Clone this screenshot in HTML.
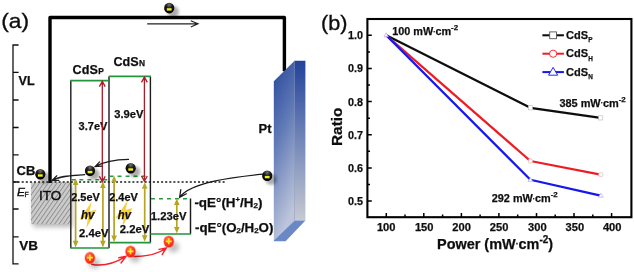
<!DOCTYPE html>
<html><head><meta charset="utf-8">
<style>
html,body{margin:0;padding:0;background:#fff;}
svg{display:block;}
text{font-family:"Liberation Sans",sans-serif;fill:#111;}
.b{font-weight:bold;stroke:#111;stroke-width:0.25px;}
</style></head>
<body>
<svg width="634" height="272" viewBox="0 0 634 272">
<defs>
  <filter id="blur0" x="-50%" y="-50%" width="200%" height="200%"><feGaussianBlur stdDeviation="0.7"/></filter>
  <filter id="blur1" x="-50%" y="-50%" width="200%" height="200%"><feGaussianBlur stdDeviation="1.8"/></filter>
  <filter id="blur2" x="-50%" y="-50%" width="200%" height="200%"><feGaussianBlur stdDeviation="2.5"/></filter>
  <filter id="soft" x="-5%" y="-5%" width="110%" height="110%"><feGaussianBlur stdDeviation="0.35"/></filter>
  <radialGradient id="eg" cx="50%" cy="20%" r="70%">
    <stop offset="0" stop-color="#777"/><stop offset="0.45" stop-color="#1a1a1a"/><stop offset="1" stop-color="#000"/>
  </radialGradient>
  <radialGradient id="hg" cx="40%" cy="30%" r="75%">
    <stop offset="0" stop-color="#ff7a4a"/><stop offset="0.55" stop-color="#ff3a26"/><stop offset="1" stop-color="#f02020"/>
  </radialGradient>
  <pattern id="hatch" width="3.6" height="4" patternUnits="userSpaceOnUse" patternTransform="rotate(35)">
    <rect width="4" height="4" fill="#cbcbcb"/>
    <line x1="0.5" y1="0" x2="0.5" y2="4" stroke="#7a7a7a" stroke-width="0.75"/>
  </pattern>
  <linearGradient id="ptL" x1="0" y1="0" x2="0.25" y2="1">
    <stop offset="0" stop-color="#27479b"/><stop offset="0.45" stop-color="#6079b6"/><stop offset="1" stop-color="#bcc5da"/>
  </linearGradient>
  <linearGradient id="ptR" x1="0" y1="0" x2="0" y2="1">
    <stop offset="0" stop-color="#23429a"/><stop offset="0.45" stop-color="#6a80b6"/><stop offset="1" stop-color="#c8cad2"/>
  </linearGradient>
  <g id="el">
    <ellipse cx="4" cy="3.6" rx="5.6" ry="5.6" fill="#000" opacity="0.32" filter="url(#blur1)"/>
    <ellipse rx="5.1" ry="5.3" fill="url(#eg)"/>
    <rect x="-2.4" y="0.1" width="4.8" height="2.4" fill="#f4f010"/>
  </g>
  <g id="ho">
    <ellipse cx="4.6" cy="5.4" rx="5.6" ry="5.2" fill="#000" opacity="0.26" filter="url(#blur2)"/>
    <ellipse rx="5.6" ry="6.4" fill="#ff7060" opacity="0.5" filter="url(#blur0)"/>
    <ellipse rx="4.9" ry="5.7" fill="url(#hg)"/>
    <path d="M-3 -0.3H3M0 -3.3V2.7" stroke="#ffee1a" stroke-width="1.7" fill="none"/>
  </g>
  <path id="bolt" d="M91.6 201.8 L79.4 219.8 L88 217.2 L86.4 228.2 L96.6 209.4 L89.6 211.4 Z" fill="#f9cf3a"/>
</defs>
<rect width="634" height="272" fill="#fff"/>

<!-- ================= panel (a) ================= -->
<g filter="url(#soft)">
<text x="1.2" y="28.3" font-size="20.6" textLength="27.8" lengthAdjust="spacingAndGlyphs" stroke="#111" stroke-width="0.35">(a)</text>

<!-- left bracket axis -->
<path d="M18.6 45H13V263.8H18.6 M13 72.3H18.6 M13 100H18.6 M13 127.5H18.6 M13 154.8H18.6 M13 182H18.6 M13 209H18.6 M13 236.8H18.6" stroke="#111" stroke-width="1.3" fill="none"/>
<text class="b" x="18.6" y="85.4" font-size="12.6">VL</text>
<text class="b" x="16.6" y="174.6" font-size="12.6" textLength="18.8" lengthAdjust="spacingAndGlyphs">CB</text>
<text x="17" y="196.4" font-size="11.8" font-style="italic" stroke="#111" stroke-width="0.4">E</text>
<text x="24.6" y="196.6" font-size="6.8" stroke="#111" stroke-width="0.3">F</text>
<text class="b" x="19.2" y="250.2" font-size="12.6" textLength="18.7" lengthAdjust="spacingAndGlyphs">VB</text>

<!-- ITO -->
<rect x="33" y="186" width="39.5" height="41" fill="#000" opacity="0.28" filter="url(#blur2)"/>
<rect x="31" y="182.4" width="39.4" height="41.8" fill="url(#hatch)"/>
<text x="39.1" y="200.4" font-size="13" textLength="22.2" lengthAdjust="spacingAndGlyphs" stroke="#111" stroke-width="0.45">ITO</text>

<!-- wire -->
<path d="M50 183 V17.5 H284.4 V71.2" stroke="#000" stroke-width="3.4" fill="none" stroke-linejoin="round"/>
<path d="M147.2 23.8 H197.4 M190.8 20.7 L198 23.8 L190.8 27" stroke="#222" stroke-width="1.2" fill="none"/>

<!-- Pt -->
<polygon points="273.8,81.2 294.6,60.8 294.6,220.4 273.8,240.6" fill="url(#ptL)"/>
<polygon points="294.6,60.8 305.4,60.8 305.4,220.6 294.6,220.6" fill="url(#ptR)"/>
<polygon points="273.8,240.6 294.6,220.4 305.4,220.6 285.6,241.2 273.8,241.2" fill="#6a88c6"/>
<line x1="294.6" y1="60.8" x2="294.6" y2="220.4" stroke="#56689a" stroke-width="0.5" opacity="0.7"/>
<text class="b" x="258.6" y="132.9" font-size="13">Pt</text>

<!-- band boxes -->
<path d="M70.8 80.5 V248 M109 76.4 V248 M150.4 76.4 V242.6 M190.5 198.6 V234" stroke="#1c1c1c" stroke-width="1.4" fill="none"/>
<path d="M70.2 80.6 H108.8 M108.8 76.4 H150.9 M70.2 248 H109.2 M108.8 242.6 H150.9 M150.4 234 H191" stroke="#24953c" stroke-width="1.6" fill="none"/>
<path d="M71.4 179.8 H108.5" stroke="#259a3c" stroke-width="1.5" stroke-dasharray="3.9 4.1" fill="none"/>
<path d="M109.6 176.2 H148" stroke="#259a3c" stroke-width="1.5" stroke-dasharray="3.9 4.1" fill="none"/>
<path d="M151 198.7 H188" stroke="#259a3c" stroke-width="1.5" stroke-dasharray="3.9 4.1" fill="none"/>
<!-- dotted EF line -->
<path d="M13.5 182 H226" stroke="#1a1a1a" stroke-width="1.6" stroke-dasharray="2 2.1" fill="none"/>

<!-- bolts -->
<use href="#bolt"/>
<use href="#bolt" transform="translate(36,-1.4)"/>

<!-- olive arrows -->
<g stroke="#b5a524" stroke-width="1.7" fill="#b5a524">
  <path d="M75.6 184.4 V241.3" fill="none"/><path d="M75.6 178.3 L72.8 184.9 H78.39999999999999 Z M75.6 247.4 L72.8 240.8 H78.39999999999999 Z" stroke="none"/>
  <path d="M102.9 187.6 V241.3" fill="none"/><path d="M102.9 181.5 L100.10000000000001 188.1 H105.7 Z M102.9 247.4 L100.10000000000001 240.8 H105.7 Z" stroke="none"/>
  <path d="M114.1 181.7 V236.1" fill="none"/><path d="M114.1 175.6 L111.3 182.2 H116.89999999999999 Z M114.1 242.2 L111.3 235.6 H116.89999999999999 Z" stroke="none"/>
  <path d="M144.7 188.29999999999998 V235.70000000000002" fill="none"/><path d="M144.7 182.2 L141.89999999999998 188.79999999999998 H147.5 Z M144.7 241.8 L141.89999999999998 235.20000000000002 H147.5 Z" stroke="none"/>
  <path d="M176.8 204.5 V227.5" fill="none"/><path d="M176.8 198.4 L174.0 205.0 H179.60000000000002 Z M176.8 233.6 L174.0 227.0 H179.60000000000002 Z" stroke="none"/>
</g>

<!-- energy labels -->
<text class="b" x="78.6" y="129.6" font-size="11" textLength="28.8" lengthAdjust="spacingAndGlyphs">3.7eV</text>
<text class="b" x="114.2" y="117.7" font-size="11" textLength="29.2" lengthAdjust="spacingAndGlyphs">3.9eV</text>
<text class="b" x="71.2" y="200.5" font-size="11" textLength="28.6" lengthAdjust="spacingAndGlyphs">2.5eV</text>
<text class="b" x="109.2" y="200.5" font-size="11" textLength="28.6" lengthAdjust="spacingAndGlyphs">2.4eV</text>
<text class="b" x="79" y="236.9" font-size="11" textLength="29.4" lengthAdjust="spacingAndGlyphs">2.4eV</text>
<text class="b" x="119.8" y="233.3" font-size="11" textLength="29.6" lengthAdjust="spacingAndGlyphs">2.2eV</text>
<text class="b" x="150.8" y="220.4" font-size="11" textLength="35.8" lengthAdjust="spacingAndGlyphs">1.23eV</text>
<text class="b" x="81" y="218.9" font-size="12.4" font-style="italic" textLength="13.4" lengthAdjust="spacingAndGlyphs">hv</text>
<text class="b" x="117.8" y="218.9" font-size="12.4" font-style="italic" textLength="13.2" lengthAdjust="spacingAndGlyphs">hv</text>

<text class="b" x="72.6" y="73.7" font-size="12.6">CdS<tspan font-size="8.4" dx="0.5">P</tspan></text>
<text class="b" x="113.4" y="65.6" font-size="12.6">CdS<tspan font-size="8.4" dx="0.5">N</tspan></text>

<text class="b" x="194.4" y="206.6" font-size="12.4" textLength="68" lengthAdjust="spacingAndGlyphs">-qE°(H<tspan font-size="7" dy="-5">+</tspan><tspan dy="5">/H</tspan><tspan font-size="7.4" dy="1">2</tspan><tspan dy="-1">)</tspan></text>
<text class="b" x="195" y="231.5" font-size="12.4" textLength="78.4" lengthAdjust="spacingAndGlyphs">-qE°(O<tspan font-size="7.4" dy="1">2</tspan><tspan dy="-1">/H</tspan><tspan font-size="7.4" dy="1">2</tspan><tspan dy="-1">O)</tspan></text>

<!-- red arrows -->
<g stroke="#aa1a28" stroke-width="1.3" fill="none">
  <path d="M102.3 81.6 V181.4 M99.4 86.6 L102.3 81.4 L105.2 86.6 M99.4 176.4 L102.3 181.6 L105.2 176.4"/>
  <path d="M144.4 77.4 V181 M141.5 82.4 L144.4 77.2 L147.3 82.4 M141.5 176 L144.4 181.2 L147.3 176"/>
</g>

<!-- curved black arrows -->
<g stroke="#1a1a1a" stroke-width="1.25" fill="none" stroke-linecap="round">
  <path d="M84.8 174.6 C72 175.6 60 175.6 52.4 180.4 M56.8 175.8 L52 180.6 L58.8 180.4"/>
  <path d="M128.5 159.4 C118 159.6 106 160.6 95.4 166.4 M99.6 161.9 L95.2 166.6 L101.8 166.2"/>
  <path d="M262.6 174.2 C232 177.5 192 182 179.8 197 M180.8 189.6 L179.6 197.3 L186.4 193.8"/>
</g>

<!-- red curved arrows -->
<g stroke="#f4242a" stroke-width="1.4" fill="none" stroke-linecap="round">
  <path d="M91.6 264.2 C102 266.6 115 263 125.8 256.6 M118.8 257.8 L126 256.4 L121 263"/>
  <path d="M132.4 256.4 C146 256.8 157 254.6 166 248.2 M159 249.4 L166.2 248 L162.2 254.6"/>
</g>

<!-- particles -->
<use href="#el" x="40.3" y="174.2"/>
<use href="#el" x="90" y="170.8"/>
<use href="#el" x="130.7" y="168.2"/>
<use href="#el" x="169.2" y="8.1"/>
<use href="#el" x="267.2" y="175.8"/>
<use href="#ho" x="89.9" y="258"/>
<use href="#ho" x="130.5" y="251.6"/>
<use href="#ho" x="168.8" y="241.6"/>
</g>

<!-- ================= panel (b) ================= -->
<g filter="url(#soft)">
<text x="321.1" y="29.9" font-size="20.4" textLength="26.4" lengthAdjust="spacingAndGlyphs" stroke="#111" stroke-width="0.35">(b)</text>
<!-- frame -->
<rect x="367.4" y="19" width="264" height="198.2" fill="none" stroke="#000" stroke-width="2.1"/>
<!-- y ticks -->
<path d="M367.4 35.3h4.4 M367.4 68.5h4.4 M367.4 101.6h4.4 M367.4 134.8h4.4 M367.4 167.9h4.4 M367.4 201h4.4
         M367.4 51.9h2.6 M367.4 85h2.6 M367.4 118.2h2.6 M367.4 151.3h2.6 M367.4 184.5h2.6" stroke="#000" stroke-width="1.5" fill="none"/>
<!-- x ticks -->
<path d="M386.3 217.2v-4.2 M423.8 217.2v-4.2 M461.4 217.2v-4.2 M498.9 217.2v-4.2 M536.5 217.2v-4.2 M574 217.2v-4.2 M611.6 217.2v-4.2
         M405 217.2v-2.6 M442.6 217.2v-2.6 M480.1 217.2v-2.6 M517.7 217.2v-2.6 M555.2 217.2v-2.6 M592.8 217.2v-2.6" stroke="#000" stroke-width="1.5" fill="none"/>
<g class="b" font-size="10.8" text-anchor="end">
  <text x="363" y="39.2">1.0</text><text x="363" y="72.4">0.9</text><text x="363" y="105.5">0.8</text>
  <text x="363" y="138.7">0.7</text><text x="363" y="171.8">0.6</text><text x="363" y="204.9">0.5</text>
</g>
<g class="b" font-size="10.8" text-anchor="middle">
  <text x="386.2" y="230.6" textLength="18.6" lengthAdjust="spacingAndGlyphs">100</text><text x="424.2" y="230.6" textLength="18.6" lengthAdjust="spacingAndGlyphs">150</text><text x="461.6" y="230.6" textLength="18.6" lengthAdjust="spacingAndGlyphs">200</text>
  <text x="499.1" y="230.6" textLength="18.6" lengthAdjust="spacingAndGlyphs">250</text><text x="537.3" y="230.6" textLength="18.6" lengthAdjust="spacingAndGlyphs">300</text><text x="574.8" y="230.6" textLength="18.6" lengthAdjust="spacingAndGlyphs">350</text><text x="612.2" y="230.6" textLength="18.6" lengthAdjust="spacingAndGlyphs">400</text>
</g>
<text class="b" font-size="14.4" x="437" y="248.6" textLength="116.2" lengthAdjust="spacingAndGlyphs">Power (mW<tspan font-size="8.6" dy="-1.8">·</tspan><tspan dy="1.8">cm</tspan><tspan font-size="10" dy="-5.8">-2</tspan><tspan dy="5.8">)</tspan></text>
<text class="b" font-size="14.6" transform="translate(341.6,146) rotate(-90)" textLength="38.4" lengthAdjust="spacingAndGlyphs">Ratio</text>

<!-- data -->
<polyline points="386.2,35.3 530.4,107.8 600.6,117.9" stroke="#0a0a0a" stroke-width="2.2" fill="none" stroke-linejoin="round"/>
<polyline points="386.2,35.3 530.4,161 600.6,174.6" stroke="#ee1c24" stroke-width="2.2" fill="none" stroke-linejoin="round"/>
<polyline points="386.2,35.3 530.4,179.8 600.6,195.6" stroke="#1414ee" stroke-width="2.2" fill="none" stroke-linejoin="round"/>
<g fill="#fff" stroke-width="0.6">
  <rect x="528.3" y="105.7" width="4.2" height="4.2" stroke="#bbb"/><rect x="598.6" y="115.8" width="4.2" height="4.2" stroke="#bbb"/>
  <circle cx="530.4" cy="161" r="2.2" stroke="#f4a0a0"/><circle cx="600.8" cy="174.6" r="2.2" stroke="#f4a0a0"/>
  <path d="M530.4 177.4 L532.8 181.4 H528 Z" stroke="#a0a0f4"/><path d="M600.8 193.2 L603.2 197.2 H598.4 Z" stroke="#a0a0f4"/>
  <path d="M386.2 32.8 L388.4 36.8 H384 Z" stroke="#c090d8" stroke-width="0.6"/>
</g>

<text class="b" font-size="10.8" x="392.2" y="35.1" textLength="66" lengthAdjust="spacingAndGlyphs">100 mW<tspan font-size="6.5" dy="-1.3">·</tspan><tspan dy="1.3">cm</tspan><tspan font-size="7.9" dy="-4.9">-2</tspan></text>
<text class="b" font-size="10.8" x="559.4" y="106.6" textLength="66.4" lengthAdjust="spacingAndGlyphs">385 mW<tspan font-size="6.5" dy="-1.3">·</tspan><tspan dy="1.3">cm</tspan><tspan font-size="7.9" dy="-4.9">-2</tspan></text>
<text class="b" font-size="10.8" x="491.8" y="202.3" textLength="66" lengthAdjust="spacingAndGlyphs">292 mW<tspan font-size="6.5" dy="-1.3">·</tspan><tspan dy="1.3">cm</tspan><tspan font-size="7.9" dy="-4.9">-2</tspan></text>

<!-- legend -->
<path d="M542.4 35.3H563.9" stroke="#0a0a0a" stroke-width="2"/>
<path d="M542.4 53.7H563.9" stroke="#ee1c24" stroke-width="2"/>
<path d="M542.4 72.1H563.9" stroke="#1414ee" stroke-width="2"/>
<rect x="549.7" y="31.9" width="6.8" height="6.8" fill="#fff" stroke="#555" stroke-width="0.9"/>
<circle cx="553.1" cy="53.7" r="3.6" fill="#fff" stroke="#ee1c24" stroke-width="0.9"/>
<path d="M553.1 67.4 L557.7 75.2 H548.5 Z" fill="#fff" stroke="#1414ee" stroke-width="0.9"/>
<g class="b" font-size="11">
  <text x="566" y="38.8">CdS<tspan font-size="6.4" dy="3.6" dx="0.3">P</tspan></text>
  <text x="566" y="57.2">CdS<tspan font-size="6.4" dy="3.6" dx="0.3">H</tspan></text>
  <text x="566" y="75.6">CdS<tspan font-size="6.4" dy="3.6" dx="0.3">N</tspan></text>
</g>
</g>
</svg>
</body></html>
